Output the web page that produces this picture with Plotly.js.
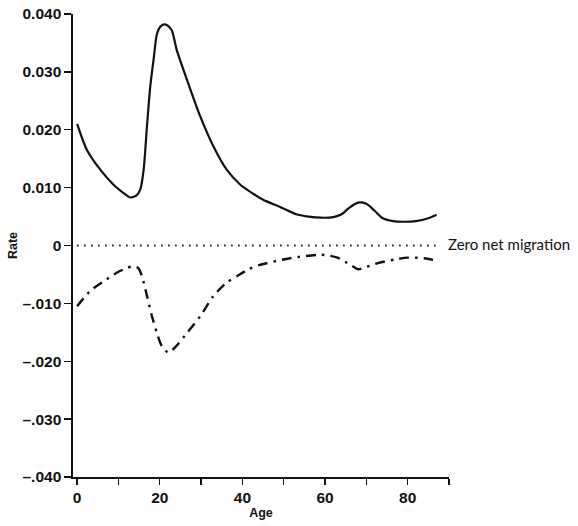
<!DOCTYPE html>
<html>
<head>
<meta charset="utf-8">
<script src="https://cdn.plot.ly/plotly-3.0.1.min.js"></script>
<style>html,body{margin:0;padding:0;background:#fff;}#chart{width:578px;height:526px;}</style>
</head>
<body>
<div id="chart"></div>
<script>
// In-migration rate (solid)
const agesIn = [0, 2.3, 5.6, 8.8, 11, 12.8, 14.3, 15.3, 16.1, 16.9, 17.7, 18.5, 19.3, 20.1, 21, 21.7, 22.9, 24.1, 26.6, 29.8, 33, 36.2, 39.5, 42.7, 45, 49, 53, 56, 59, 62, 64, 66, 68, 70, 72, 74, 76.5, 79, 82, 85, 87];
const rateIn = [0.021, 0.0166, 0.0131, 0.0105, 0.0092, 0.0083, 0.0086, 0.0097, 0.0131, 0.0206, 0.0275, 0.0321, 0.0365, 0.0378, 0.0382, 0.0381, 0.0372, 0.0338, 0.0286, 0.0223, 0.0171, 0.0131, 0.0105, 0.0089, 0.0079, 0.0067, 0.0054, 0.005, 0.0048, 0.0049, 0.0054, 0.0066, 0.0074, 0.0072, 0.006, 0.0047, 0.0042, 0.0041, 0.0042, 0.0047, 0.0053];

// Out-migration rate (dash-dot)
const agesOut = [0, 3.1, 6.4, 9.6, 12, 13.6, 14.8, 15.7, 16.9, 18.1, 19.3, 20.5, 22.1, 23.7, 26.6, 29.8, 33, 36.2, 38.7, 41.5, 44, 51.5, 59, 63, 66, 68, 70, 73, 77, 80, 84, 87];
const rateOut = [-0.0105, -0.0079, -0.0062, -0.0047, -0.0039, -0.0036, -0.0039, -0.0053, -0.0087, -0.0122, -0.0151, -0.0174, -0.0185, -0.0176, -0.0151, -0.0122, -0.0087, -0.0064, -0.0053, -0.0041, -0.0034, -0.0022, -0.0016, -0.0021, -0.0033, -0.0041, -0.0037, -0.003, -0.0024, -0.0021, -0.0022, -0.0026];

// Zero net migration reference
const zeroAges = [0, 87];
const zeroRate = [0, 0];

const xTickVals = [0, 10, 20, 30, 40, 50, 60, 70, 80, 90];
const xTickText = ['0', '', '20', '', '40', '', '60', '', '80', ''];
const yTickVals = [0.04, 0.03, 0.02, 0.01, 0, -0.01, -0.02, -0.03, -0.04];
const yTickText = ['0.040', '0.030', '0.020', '0.010', '0', '\u2013.010', '\u2013.020', '\u2013.030', '\u2013.040'];

const traces = [
  {x: agesIn, y: rateIn, mode: 'lines', line: {color: '#111', width: 2.2, shape: 'spline', smoothing: 0.7}, hoverinfo: 'skip'},
  {x: agesOut, y: rateOut, mode: 'lines', line: {color: '#111', width: 2.4, shape: 'spline', smoothing: 0.7, dash: '10px,6px,2.5px,6px'}, hoverinfo: 'skip'},
  {x: zeroAges, y: zeroRate, mode: 'lines', line: {color: '#111', width: 1.8, dash: '1.5px,5.5px'}, hoverinfo: 'skip'}
];

const fontFam = 'Liberation Sans';
const layout = {
  width: 578, height: 526,
  margin: {l: 73, r: 129, t: 14, b: 49},
  paper_bgcolor: '#fff', plot_bgcolor: '#fff',
  showlegend: false,
  font: {family: fontFam, color: '#111', size: 14},
  xaxis: {
    range: [-1, 90], showgrid: false, zeroline: false,
    showline: true, linecolor: '#111', linewidth: 1.6,
    ticks: 'outside', ticklen: 6, tickwidth: 1.4, tickcolor: '#111',
    tickvals: xTickVals, ticktext: xTickText,
    tickfont: {family: fontFam, size: 15.5, color: '#111', weight: 'bold'},
    title: {text: 'Age', font: {family: fontFam, size: 12.5, color: '#111', weight: 'bold'}, standoff: 1}
  },
  yaxis: {
    range: [-0.04, 0.04], showgrid: false, zeroline: false,
    showline: true, linecolor: '#111', linewidth: 1.6,
    ticks: 'outside', ticklen: 7, tickwidth: 1.4, tickcolor: '#111',
    tickvals: yTickVals, ticktext: yTickText,
    tickfont: {family: fontFam, size: 15.5, color: '#111', weight: 'bold'},
    title: {text: 'Rate', font: {family: fontFam, size: 12.5, color: '#111', weight: 'bold'}, standoff: 2}
  },
  annotations: [{
    x: 90, y: 0, xref: 'x', yref: 'y', xanchor: 'left', yanchor: 'middle',
    text: 'Zero net migration', showarrow: false, xshift: -3, yshift: 2,
    font: {family: 'Lato', size: 15, color: '#111'}
  }]
};

Plotly.newPlot('chart', traces, layout, {displayModeBar: false, staticPlot: true});
</script>
</body>
</html>
